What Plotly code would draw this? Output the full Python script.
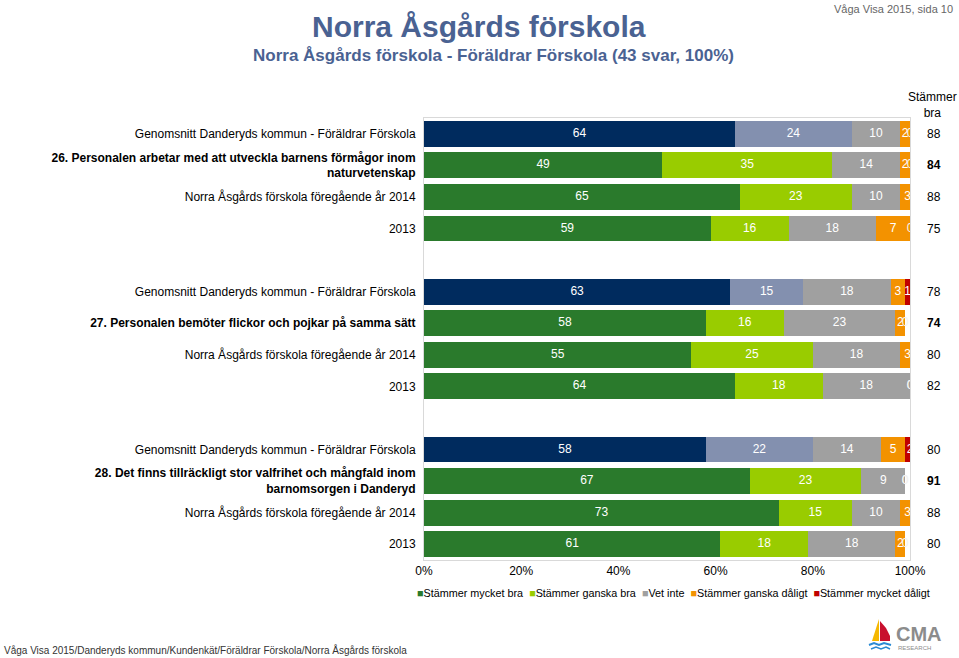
import plotly.graph_objects as go

# ---------------- data ----------------
questions = [
    "<b>26. Personalen arbetar med att utveckla barnens förmågor inom</b><br><b>naturvetenskap</b>",
    "<b>27. Personalen bemöter flickor och pojkar på samma sätt</b>",
    "<b>28. Det finns tillräckligt stor valfrihet och mångfald inom</b><br><b>barnomsorgen i Danderyd</b>",
]
row_kinds = ["Genomsnitt Danderyds kommun - Föräldrar Förskola", None,
             "Norra Åsgårds förskola föregående år 2014", "2013"]

series_names = ["Stämmer mycket bra", "Stämmer ganska bra", "Vet inte",
                "Stämmer ganska dåligt", "Stämmer mycket dåligt"]
mycket_bra = [64, 49, 65, 59, 63, 58, 55, 64, 58, 67, 73, 61]
ganska_bra = [24, 35, 23, 16, 15, 16, 25, 18, 22, 23, 15, 18]
vet_inte = [10, 14, 10, 18, 18, 23, 18, 18, 14, 9, 10, 18]
ganska_daligt = [2, 2, 3, 7, 3, 2, 3, 0, 5, 0, 3, 2]
mycket_daligt = [0, 0, 0, 0, 1, 0, 0, 0, 2, 0, 0, 0]
stammer_bra = [88, 84, 88, 75, 78, 74, 80, 82, 80, 91, 88, 80]

x_ticks = [0, 20, 40, 60, 80, 100]
x_ticktext = ["0%", "20%", "40%", "60%", "80%", "100%"]

# ---------------- styling ----------------
col_dand = ["#002b5e", "#8390af", "#a0a0a0", "#f39200", "#c00000"]
col_skola = ["#2a7a2c", "#99cc00", "#a0a0a0", "#f39200", "#c00000"]
FONT = "Liberation Sans, Arial, sans-serif"

W, H = 959, 658
L, R, T, B = 424, 49, 118, 98
PW, PH = W - L - R, H - T - B


def px(x):
    return (x - L) / PW


def py(y):
    return (H - B - y) / PH


# row positions (blank slot between question groups)
positions, labels = [], []
for g, q in enumerate(questions):
    for i, k in enumerate(row_kinds):
        positions.append(g * 5 + i)
        labels.append(q if k is None else k)

all_series = [mycket_bra, ganska_bra, vet_inte, ganska_daligt, mycket_daligt]

fig = go.Figure()
lab_x, lab_y, lab_t = [], [], []
zero_x, zero_y = [], []
cum = [0] * len(positions)
for s, (name, vals) in enumerate(zip(series_names, all_series)):
    colors = [col_dand[s] if i % 4 == 0 else col_skola[s] for i in range(len(vals))]
    fig.add_trace(go.Bar(
        name=name, orientation="h", x=vals, y=positions, width=0.82,
        marker=dict(color=colors, line=dict(width=0)),
        showlegend=False, hoverinfo="skip",
    ))
    for i, v in enumerate(vals):
        if v == 0:
            zero_x.append(cum[i])
            zero_y.append(positions[i])
        else:
            lab_x.append(cum[i] + v / 2)
            lab_y.append(positions[i])
            lab_t.append(str(v))
        cum[i] += v

# segment value labels (centred in each segment)
fig.add_trace(go.Scatter(
    x=lab_x, y=lab_y, mode="text", text=lab_t,
    textposition="middle center", cliponaxis=False,
    textfont=dict(color="white", size=12, family=FONT),
    showlegend=False, hoverinfo="skip",
))
# labels for zero-size segments (clipped at the plot edge as in the original)
fig.add_trace(go.Scatter(
    x=zero_x, y=zero_y, mode="text", text=["0"] * len(zero_x),
    textposition="middle center", cliponaxis=True,
    textfont=dict(color="#f2f2f2", size=12, family=FONT),
    showlegend=False, hoverinfo="skip",
))

fig.update_layout(
    width=W, height=H, barmode="stack",
    margin=dict(l=L, r=R, t=T, b=B),
    paper_bgcolor="white", plot_bgcolor="white",
    font=dict(family=FONT, color="#000000"),
    xaxis=dict(range=[0, 100], tickvals=x_ticks, ticktext=x_ticktext,
               showgrid=False, zeroline=False, showline=True,
               linecolor="#d9d9d9", linewidth=1, mirror=True,
               ticks="", tickfont=dict(size=12, color="#000000")),
    yaxis=dict(range=[13.5, -0.5], tickvals=positions, ticktext=labels,
               showgrid=False, zeroline=False, showline=True,
               linecolor="#d9d9d9", linewidth=1, mirror=True,
               ticks="", ticklabelstandoff=5,
               tickfont=dict(size=12, color="#000000")),
)

ann = []
# right column "Stämmer bra"
ann.append(dict(xref="paper", yref="paper", x=px(932), y=py(105),
                text="Stämmer<br>bra", showarrow=False, xanchor="center",
                yanchor="middle", font=dict(size=12, color="#000")))
for i, (p, v) in enumerate(zip(positions, stammer_bra)):
    txt = f"<b>{v}</b>" if i % 4 == 1 else str(v)
    ann.append(dict(xref="paper", yref="y", x=px(925), y=p, text=txt,
                    showarrow=False, xanchor="left", yanchor="middle",
                    font=dict(size=12, color="#000")))

# titles
ann.append(dict(xref="paper", yref="paper", x=px(479), y=py(26),
                text="<b>Norra Åsgårds förskola</b>", showarrow=False,
                xanchor="center", yanchor="middle",
                font=dict(size=30, color="#4a6292")))
ann.append(dict(xref="paper", yref="paper", x=px(493), y=py(55),
                text="<b>Norra Åsgårds förskola - Föräldrar Förskola (43 svar, 100%)</b>",
                showarrow=False, xanchor="center", yanchor="middle",
                font=dict(size=17, color="#4a6292")))
ann.append(dict(xref="paper", yref="paper", x=px(955), y=py(9),
                text="Våga Visa 2015, sida 10", showarrow=False,
                xanchor="right", yanchor="middle",
                font=dict(size=11, color="#666666")))

# legend
leg_parts = []
for s, name in enumerate(series_names):
    leg_parts.append(f'<span style="color:{col_skola[s]}">■</span>{name}')
ann.append(dict(xref="paper", yref="paper", x=px(415), y=py(593),
                text="&nbsp;&nbsp;".join(leg_parts), showarrow=False,
                xanchor="left", yanchor="middle",
                font=dict(size=10.8, color="#000")))

# footer
ann.append(dict(xref="paper", yref="paper", x=px(2), y=py(650),
                text="Våga Visa 2015/Danderyds kommun/Kundenkät/Föräldrar Förskola/Norra Åsgårds förskola",
                showarrow=False, xanchor="left", yanchor="middle",
                font=dict(size=10, color="#333333")))

# logo text
ann.append(dict(xref="paper", yref="paper", x=px(894), y=py(634),
                text="<b>CMA</b>", showarrow=False, xanchor="left",
                yanchor="middle", font=dict(size=20, color="#8c8c8c")))
ann.append(dict(xref="paper", yref="paper", x=px(896), y=py(648),
                text="RESEARCH", showarrow=False, xanchor="left",
                yanchor="middle", font=dict(size=6, color="#8c8c8c")))
fig.update_layout(annotations=ann)


def path(pts, close=True):
    s = "M " + " L ".join(f"{px(a):.5f},{py(b):.5f}" for a, b in pts)
    return s + (" Z" if close else "")


shapes = [
    dict(type="path", xref="paper", yref="paper",
         path=path([(879, 619), (872, 641), (879, 641)]),
         fillcolor="#f5b800", line=dict(width=0)),
    dict(type="path", xref="paper", yref="paper",
         path=path([(880, 621), (886, 628), (890, 636), (890, 641), (880, 641)]),
         fillcolor="#c8102e", line=dict(width=0)),
    dict(type="path", xref="paper", yref="paper",
         path=path([(869, 645), (874, 643), (879, 645), (884, 643), (891, 645)], close=False),
         line=dict(color="#2a8ad4", width=2)),
    dict(type="path", xref="paper", yref="paper",
         path=path([(871, 649), (876, 647), (881, 649), (886, 647), (890, 649)], close=False),
         line=dict(color="#2a8ad4", width=1.5)),
]
fig.update_layout(shapes=shapes)

fig.write_html("out.html")
